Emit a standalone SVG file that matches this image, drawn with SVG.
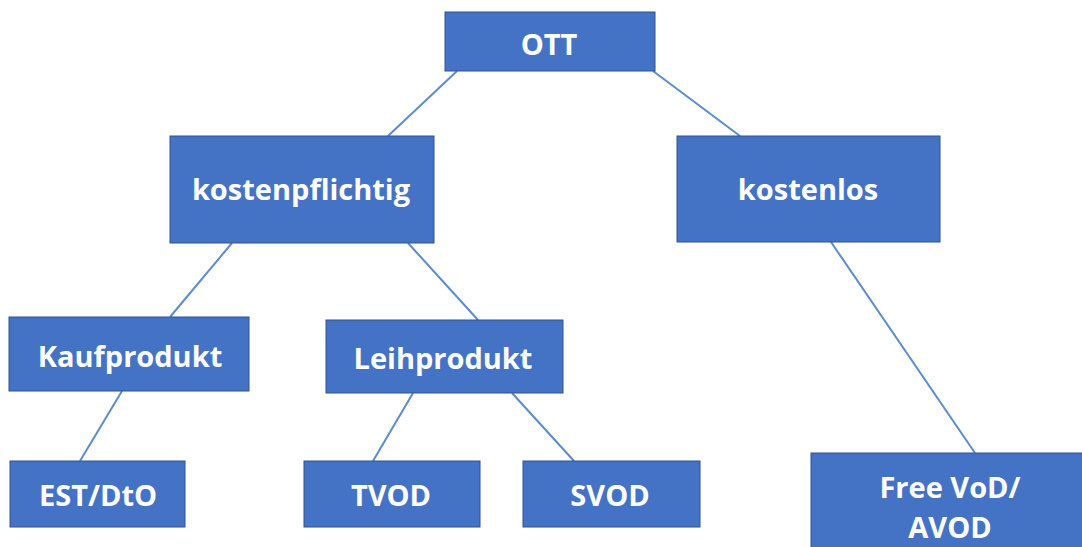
<svg xmlns="http://www.w3.org/2000/svg" width="1082" height="547" viewBox="0 0 1082 547">
<style>
.box{fill:#4472C4;stroke:#2F528F;stroke-width:1}
.lbl{fill:#fff;font-family:"Open Sans","Liberation Sans",sans-serif;font-weight:bold;font-size:29px;text-anchor:middle;dominant-baseline:central}
.edge{stroke:#5B8BD0;stroke-width:2;fill:none}
</style>
<rect width="1082" height="547" fill="#fff"/>
<g id="connectors">
<line class="edge" x1="457" y1="71" x2="388" y2="136"/>
<line class="edge" x1="653" y1="71" x2="740" y2="136"/>
<line class="edge" x1="232" y1="243" x2="170" y2="317"/>
<line class="edge" x1="408" y1="243" x2="478" y2="320"/>
<line class="edge" x1="831" y1="242" x2="975" y2="453"/>
<line class="edge" x1="122" y1="391" x2="80" y2="461"/>
<line class="edge" x1="413" y1="393" x2="373" y2="461"/>
<line class="edge" x1="512" y1="393" x2="574" y2="461"/>
</g>
<g id="ott"><rect class="box" x="445" y="12" width="210" height="59"/><text class="lbl" x="549" y="43">OTT</text></g>
<g id="kostenpflichtig"><rect class="box" x="170" y="136" width="264" height="107"/><text class="lbl" x="301" y="188">kostenpflichtig</text></g>
<g id="kostenlos"><rect class="box" x="677" y="136" width="263" height="106"/><text class="lbl" x="808" y="188">kostenlos</text></g>
<g id="kaufprodukt"><rect class="box" x="9" y="317" width="240" height="74"/><text class="lbl" x="130" y="355">Kaufprodukt</text></g>
<g id="leihprodukt"><rect class="box" x="326" y="320" width="237" height="73"/><text class="lbl" x="443" y="357">Leihprodukt</text></g>
<g id="est"><rect class="box" x="10" y="461" width="175" height="66"/><text class="lbl" x="98" y="494">EST/DtO</text></g>
<g id="tvod"><rect class="box" x="304" y="461" width="176" height="66"/><text class="lbl" x="391" y="494">TVOD</text></g>
<g id="svod"><rect class="box" x="523" y="461" width="177" height="66"/><text class="lbl" x="610" y="494">SVOD</text></g>
<g id="free"><rect class="box" x="811" y="453" width="280" height="100"/><text class="lbl" x="950" y="486">Free VoD/</text><text class="lbl" x="950" y="526">AVOD</text></g>
</svg>
